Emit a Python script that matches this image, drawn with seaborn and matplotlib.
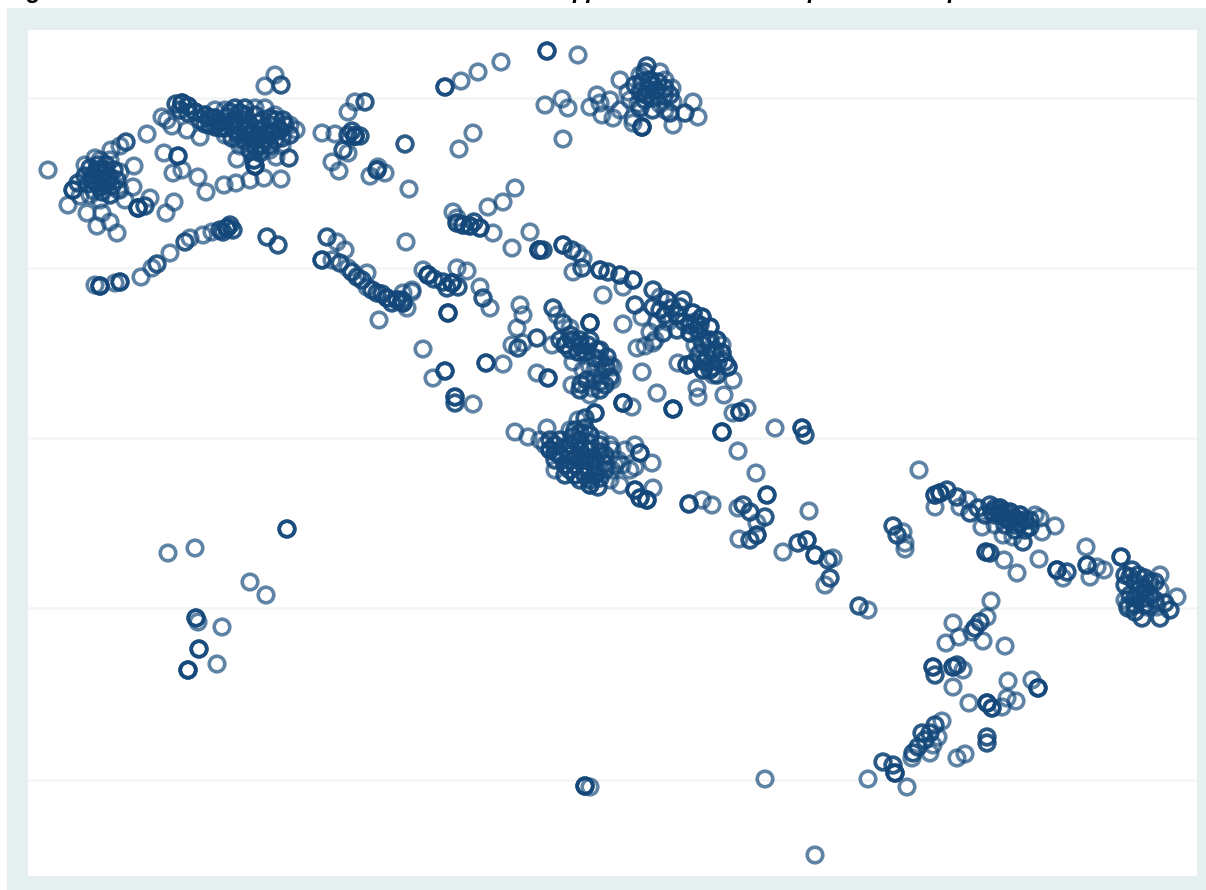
"""Hollow-circle scatter of sites, reading values off the reference picture."""
import matplotlib
matplotlib.use("Agg")
import matplotlib.pyplot as plt
from matplotlib.patches import Rectangle
import pandas as pd
import seaborn as sns

BG_COLOR = "#e6eff0"
GRID_COLOR = "#f2f5f5"
RING_COLOR = "#14487a"

# every entry: x reading, y reading, number of overlapping observations
north_west = [
    (48,170,1),(73,190,3),(68,205,1),(87,213,1),(97,226,1),(117,233,1),(110,222,1),(102,213,1),
    (134,166,1),(133,187,1),(150,198,1),(138,208,5),(145,206,2),(166,213,1),(174,202,1),
    (111,150,1),(126,142,2),(120,146,1),(147,134,1),(164,153,1),(178,156,3),(173,173,1),(182,170,1),
    (198,177,1),(206,192,1),(224,185,1),(236,183,1),(250,180,1),(264,178,1),(281,179,1),
    (255,166,4),(289,158,2),(237,159,1),(276,157,1),
    (90,168,2),(98,165,2),(106,165,2),(114,170,2),(85,176,2),(93,175,2),(101,174,2),(109,176,2),
    (117,180,2),(88,184,2),(96,183,2),(104,183,2),(112,186,2),(120,190,1),(94,191,1),(102,192,2),
    (110,195,2),(100,200,1),(80,196,1),(125,200,1),(100,160,1),
    (85,165,1),(95,158,1),(110,160,1),(120,172,1),(118,190,1),(90,195,1),(78,183,2),(105,170,2),
    (97,170,2),(92,180,2),(100,187,2),(108,182,2),
    (275,75,1),(265,86,1),(281,85,2),
]
po_valley = [
    (182,103,4),(176,104,2),(188,106,3),(167,120,1),(162,117,1),(172,126,1),(200,137,1),(187,130,1),
    (195,112,3),(205,115,3),(215,118,3),(225,122,2),(235,120,2),(245,115,2),(240,125,3),(250,125,3),
    (260,130,3),(270,125,2),(280,130,3),(290,135,2),(245,135,2),(255,140,3),(265,140,3),(275,140,2),
    (285,125,2),(235,130,2),(225,135,1),(265,108,1),(275,115,1),(210,125,2),(220,128,2),(230,112,2),
    (255,115,2),(262,120,1),(272,132,2),(282,138,2),(296,130,1),(240,113,2),(248,143,1),(238,140,1),
    (200,120,2),(215,110,1),(205,124,2),(215,127,2),(228,117,2),(233,125,2),(243,120,2),(252,133,3),
    (258,123,2),(266,134,3),(276,120,2),(283,120,2),(290,125,1),(262,145,2),(270,146,2),(256,148,2),
    (188,113,2),(180,110,2),(225,128,2),(246,130,2),(238,134,2),
    (225,110,1),(235,108,2),(245,108,2),(255,108,1),(270,118,2),(240,146,1),(250,150,2),(260,153,2),
    (270,150,1),(254,160,3),(282,146,1),(218,122,2),(210,118,2),(232,138,2),(244,140,2),
    (227,228,6),(220,230,2),(233,230,2),(203,235,1),(212,232,1),(185,242,2),(190,238,1),(170,253,1),
    (157,264,2),(152,268,1),(141,277,1),(120,282,3),(115,283,1),(100,286,4),(95,285,1),
    (267,237,2),(278,245,2),(223,232,2),(230,225,2),
]
lombardy_east = [
    (322,133,1),(335,134,1),(355,136,6),(348,135,2),(343,150,2),(348,153,1),(332,162,1),(339,171,1),
    (365,102,2),(355,102,1),(348,112,1),(405,144,2),(377,170,3),(370,176,1),(385,173,1),(378,167,1),
    (409,189,1),(406,242,1),(352,131,2),(360,136,2),
    (327,237,2),(337,242,1),(345,250,1),(322,260,3),(332,260,1),(340,263,2),(348,268,1),(357,277,2),
    (367,273,1),(367,287,1),(377,293,2),(387,298,3),(397,300,3),(407,308,1),(412,292,1),(403,293,1),
    (379,320,1),(352,272,2),(362,280,2),(372,290,2),(382,294,2),(392,303,2),(402,300,2),
]
veneto = [
    (445,87,3),(461,81,1),(478,72,1),(501,62,1),(547,51,3),(578,55,1),(545,105,1),(562,99,1),(568,108,1),
    (563,139,1),(473,133,1),(459,149,1),(590,107,1),(597,95,1),(600,103,1),(602,115,1),(610,100,1),
    (613,118,1),(620,80,1),(620,110,1),(630,100,1),(633,118,1),(640,75,1),(647,66,2),
    (635,85,2),(642,82,2),(650,80,3),(658,82,2),(665,88,2),(640,92,2),(648,90,3),(656,90,3),(664,96,2),
    (645,100,2),(653,98,2),(660,104,1),(638,104,1),(652,85,2),(646,95,2),
    (628,92,1),(665,80,1),(670,95,2),(660,72,1),(645,72,2),(640,108,2),(652,110,1),(665,110,1),
    (642,127,5),(633,123,1),(672,88,1),(670,113,2),(673,125,1),(685,113,2),(693,102,1),(698,117,1),
    (653,110,1),(673,102,1),
]
ligurian = [
    (453,212,1),(457,218,1),(457,223,3),(463,225,3),(470,226,3),(480,228,3),(488,207,1),(503,202,1),
    (515,188,1),(493,233,1),(512,248,1),(530,232,1),(539,250,5),(543,250,2),(474,222,2),
    (428,275,5),(423,270,1),(443,282,2),(452,283,6),(457,268,1),(467,271,1),(480,287,1),(483,298,2),
    (490,308,1),(412,290,1),(403,303,3),(448,313,4),(447,288,2),(458,287,2),(434,279,2),
]
arc = [
    (563,245,3),(572,250,2),(578,253,1),(573,272,1),(582,268,2),(583,258,1),
    (600,270,3),(608,272,2),(620,275,3),(633,280,3),(603,295,1),(623,287,1),(653,290,2),(667,300,3),
    (683,300,2),(635,305,2),(642,317,1),(653,307,2),(677,315,3),(657,322,1),(693,313,3),(702,317,3),
    (710,327,3),(717,340,3),(722,353,3),(728,367,3),(733,380,1),(700,353,1),(693,363,2),(687,365,3),
    (703,370,3),(713,367,2),(678,363,1),(663,333,2),(677,330,2),(690,333,3),(650,332,1),(655,340,1),
    (645,346,1),(637,348,1),(653,343,1),(623,324,1),(642,372,1),(697,388,1),(698,397,1),(724,395,1),
    (740,412,4),(733,413,1),(747,408,1),(657,393,1),(673,409,4),(623,403,5),(632,407,1),
    (700,325,2),(707,340,2),(712,352,2),(700,338,1),(668,322,1),(660,297,1),(672,308,2),
    (703,345,2),(695,322,2),(684,322,2),(707,358,2),(718,362,2),(660,310,2),(713,375,1),
    (665,315,2),(680,307,2),(690,325,2),(698,330,2),(710,340,2),(715,350,2),(722,345,1),(725,362,2),
    (705,362,2),(698,355,1),(695,345,1),(710,370,2),(717,375,2),
]
central = [
    (553,308,2),(557,315,1),(563,323,2),(570,328,1),(590,323,4),
    (565,345,3),(572,340,3),(580,345,3),(588,345,2),(570,350,2),(578,352,3),(597,350,2),(607,357,2),
    (613,367,1),(600,360,1),(590,367,1),(587,380,2),(600,390,2),(610,377,2),(573,362,1),(572,385,1),
    (595,378,1),(603,370,1),(592,388,1),(583,370,1),(586,352,2),(595,358,2),(606,367,2),(581,384,2),
    (570,335,2),(580,340,2),(560,340,2),(590,340,2),(600,350,2),(610,365,1),(612,380,1),(600,382,2),
    (590,395,1),(580,390,2),(595,370,1),(605,385,2),
    (552,345,1),(537,338,2),(520,305,1),(523,315,1),(517,328,1),(512,345,1),(518,348,2),(523,343,1),
    (423,349,1),(445,371,3),(433,378,1),(486,363,3),(503,364,1),(537,373,1),(548,378,3),(455,397,3),
    (455,403,2),(473,404,1),
]
lazio = [
    (515,432,1),(528,437,1),(540,440,1),(547,428,1),(578,420,1),(595,413,3),(570,430,1),(585,418,2),
    (550,450,3),(560,440,2),(570,445,3),(580,440,3),(590,435,3),(560,455,3),(570,455,3),(580,450,3),
    (590,450,3),(600,445,2),(555,460,2),(565,465,3),(575,465,3),(585,460,3),(595,460,3),(605,455,2),
    (575,475,3),(585,475,3),(595,475,3),(605,470,2),(590,485,3),(598,487,2),(580,480,2),(612,450,1),
    (615,465,1),(625,450,1),(635,445,1),(622,465,1),(610,480,1),(630,470,1),(640,453,3),(652,463,1),
    (635,467,1),(620,485,1),(635,490,3),(653,488,1),(647,500,4),(640,498,3),(689,504,3),(702,500,1),
    (712,505,1),(575,430,2),(585,428,2),(565,448,2),(575,458,2),(585,468,2),(595,468,2),(590,443,2),
    (555,452,2),(600,452,2),(605,463,2),(580,433,2),(590,480,2),
    (550,440,2),(545,445,1),(555,445,2),(600,440,1),(610,445,1),(555,470,1),(565,475,2),(612,470,1),
    (618,460,1),(572,437,2),(580,458,2),(590,458,2),(570,470,2),(600,478,2),
]
abruzzo = [
    (722,432,4),(775,428,1),(802,428,3),(805,435,2),(738,451,1),(756,473,1),(767,495,3),(743,505,2),
    (738,508,1),(750,512,2),(765,517,2),(757,523,1),(757,535,3),(750,540,2),(739,539,1),(809,511,1),
    (783,552,1),(798,543,2),(807,540,3),(815,555,3),(828,560,2),(833,558,1),(830,578,2),(825,585,1),
    (859,606,2),(868,610,1),(919,470,1),(893,526,2),(903,532,1),(897,535,2),(905,543,1),(905,549,1),
]
adriatic = [
    (935,495,3),(935,507,1),(940,493,4),(947,490,2),(957,497,2),(968,500,1),(960,507,1),(970,513,2),
    (982,527,1),(995,525,1),(978,508,2),
    (990,505,2),(1000,508,3),(1010,512,3),(1020,515,3),(1030,520,2),(1000,515,3),(1010,520,3),
    (1020,523,3),(1030,527,2),(1015,530,2),(1005,525,2),(995,515,2),(985,515,2),(1035,515,1),
    (995,508,2),(1005,512,2),(1015,518,2),(1025,520,2),(1005,518,2),(1015,525,2),(1025,530,2),(992,512,2),
    (1023,542,2),(1003,535,1),(1013,537,1),(1040,518,1),(1042,532,1),(1055,526,1),
    (986,552,3),(990,553,2),(1004,560,1),(1017,573,1),(1039,559,1),(1057,570,4),(1063,578,1),
    (1067,572,2),(1086,547,1),(1087,565,3),(1090,577,1),(1097,567,1),(1104,570,1),(1121,557,3),
]
puglia = [
    (1125,575,2),(1132,570,2),(1138,575,2),(1145,578,2),(1125,585,2),(1135,582,2),(1145,588,2),
    (1155,582,2),(1160,575,1),(1130,595,2),(1140,595,2),(1150,595,2),(1160,590,1),(1135,605,2),
    (1145,605,2),(1155,600,2),(1128,605,1),(1125,600,1),(1128,608,2),(1142,618,2),(1160,618,2),
    (1170,610,2),(1177,597,1),(1157,607,1),(1147,607,1),(1135,612,2),(1165,603,2),(1130,577,2),
    (1140,588,2),(1150,582,2),(1135,598,2),(1145,598,2),
]
calabria = [
    (991,601,1),(987,617,1),(980,622,2),(975,628,2),(972,632,1),(953,623,1),(959,637,1),(946,643,1),
    (983,641,1),(1005,646,1),(933,667,3),(935,675,2),(953,667,3),(957,665,2),(963,670,1),(953,687,1),
    (969,703,1),(987,703,4),(992,708,3),(1002,707,1),(1008,681,1),(1007,698,1),(1016,701,1),
    (1032,680,1),(1038,688,4),
    (942,721,1),(935,725,2),(922,733,2),(930,733,2),(938,737,1),(925,740,2),(918,747,2),(933,745,1),
    (913,753,2),(930,753,1),(912,758,1),(883,762,2),(893,765,2),(895,773,4),(868,779,1),(907,787,1),
    (965,754,1),(957,758,1),(987,737,2),(987,743,2),
]
islands = [
    (815,855,1),(765,779,1),(585,786,4),(590,787,1),
    (168,553,1),(195,548,1),(287,529,3),(250,582,1),(266,595,1),(196,618,3),(198,622,1),(222,627,1),
    (199,649,3),(188,670,4),(217,664,1),
]
regions = [north_west, po_valley, lombardy_east, veneto, ligurian, arc, central, lazio,
           abruzzo, adriatic, puglia, calabria, islands]
grid_levels = [98, 268, 438, 608, 780]

rows = [(x, y) for reg in regions for x, y, n in reg for _ in range(n)]
df = pd.DataFrame(rows, columns=["x", "y"])

sns.set_theme(style="white")
W, H = 1206, 890
fig = plt.figure(figsize=(W / 100, H / 100), dpi=100, facecolor="white")

# tinted panel behind the white plot region
fig.add_artist(Rectangle((7 / W, 0), 1 - 7 / W, 1 - 8 / H, transform=fig.transFigure,
                         facecolor=BG_COLOR, edgecolor="none", zorder=-2))

ax = fig.add_axes([28 / W, 1 - 876 / H, (1197 - 28) / W, (876 - 30) / H])
ax.set_facecolor("white")
sns.scatterplot(data=df, x="x", y="y", ax=ax, marker="o", s=125, facecolors="none",
                edgecolor=RING_COLOR, linewidth=2.6, alpha=0.68, legend=False, zorder=3,
                clip_on=False)
ax.set_xlim(28, 1197)
ax.set_ylim(876, 30)
ax.set_yticks(grid_levels)
ax.set_xticks([])
ax.grid(axis="y", color=GRID_COLOR, lw=1.8)
ax.set_axisbelow(True)
ax.tick_params(left=False, labelleft=False)
ax.set_xlabel("")
ax.set_ylabel("")
sns.despine(ax=ax, left=True, bottom=True)

# title of the source is cut off by the crop: only descenders stay visible
for text, x_px in [("Figure", 7), ("pp", 573), ("p", 808), ("p", 948)]:
    fig.text(x_px / W, 1 + 2 / H, text, fontsize=17, fontweight="bold", style="italic",
             family="Liberation Sans", color="black", va="baseline", ha="left")

fig.savefig("out.png", dpi=100)
